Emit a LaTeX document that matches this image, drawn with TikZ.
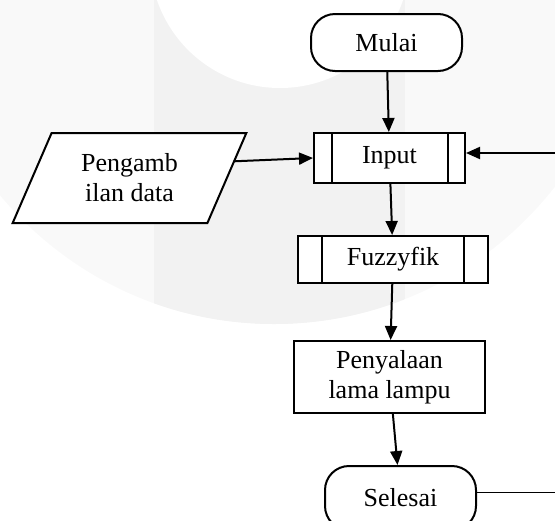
\documentclass[tikz,border=0pt]{standalone}
\usepackage{fontspec}
\setmainfont{Liberation Serif}
\usetikzlibrary{shapes.geometric, arrows.meta}

\begin{document}
\begin{tikzpicture}[
    x=0.5pt, y=-0.5pt,
    every node/.style={font=\fontsize{13}{15}\selectfont},
    box/.style={draw, line width=1pt, fill=white, inner sep=0pt, align=center},
    term/.style={box, rounded corners=12pt, minimum width=75.5pt, minimum height=28.5pt},
    subproc/.style={box, minimum height=25pt},
    iobox/.style={box, trapezium, trapezium left angle=63.4, trapezium right angle=116.6,
        trapezium stretches=true, minimum width=117.5pt, minimum height=45pt},
    flow/.style={line width=1pt, -{Triangle[width=6pt, length=7pt]}},
]

\useasboundingbox (0,0) rectangle (555,520);

% Faint watermark behind the chart
\fill[gray!5] (274,-32) circle[radius=178pt];
\begin{scope}
    \clip (274,-32) circle[radius=178pt];
    \fill[gray!10] (154,-40) rectangle (405,400);
\end{scope}
\fill[white] (280,-42) circle[radius=65pt];

% Flowchart blocks
\node[term] (mulai) at (386.5,42.5) {Mulai};
\node[subproc, minimum width=75.5pt] (input) at (389.5,158) {Input};
\node[iobox] (ambil) at (129.5,178) {Pengamb\\ilan data};
\node[subproc, minimum width=95pt, minimum height=23.5pt] (fuzzy) at (393,259.5) {Fuzzyfik};
\node[box, minimum width=95.5pt, minimum height=36pt] (nyala) at (389.5,377) {Penyalaan\\lama lampu};
\node[term, minimum height=32pt] (selesai) at (400.5,498) {Selesai};

% Side bars of the predefined processes
\draw[line width=1pt] ([xshift=9.5pt]input.north west) -- ([xshift=9.5pt]input.south west)
    ([xshift=-9pt]input.north east) -- ([xshift=-9pt]input.south east);
\draw[line width=1pt] ([xshift=12.5pt]fuzzy.north west) -- ([xshift=12.5pt]fuzzy.south west)
    ([xshift=-12.5pt]fuzzy.north east) -- ([xshift=-12.5pt]fuzzy.south east);

% Loose ends at the right border
\coordinate (loopin) at (555,153);
\coordinate (loopout) at (555,492);

% Connectors
\draw[flow] (mulai) -- (input);
\draw[flow] (ambil.9) -- (input.west);
\draw[flow] (loopin) -- (loopin -| input.east);
\draw[flow] (input) -- (fuzzy);
\draw[flow] (fuzzy) -- (nyala);
\draw[flow] (nyala) -- (selesai);
\draw[line width=0.5pt] (loopout -| selesai.east) -- (loopout);

\end{tikzpicture}
\end{document}
